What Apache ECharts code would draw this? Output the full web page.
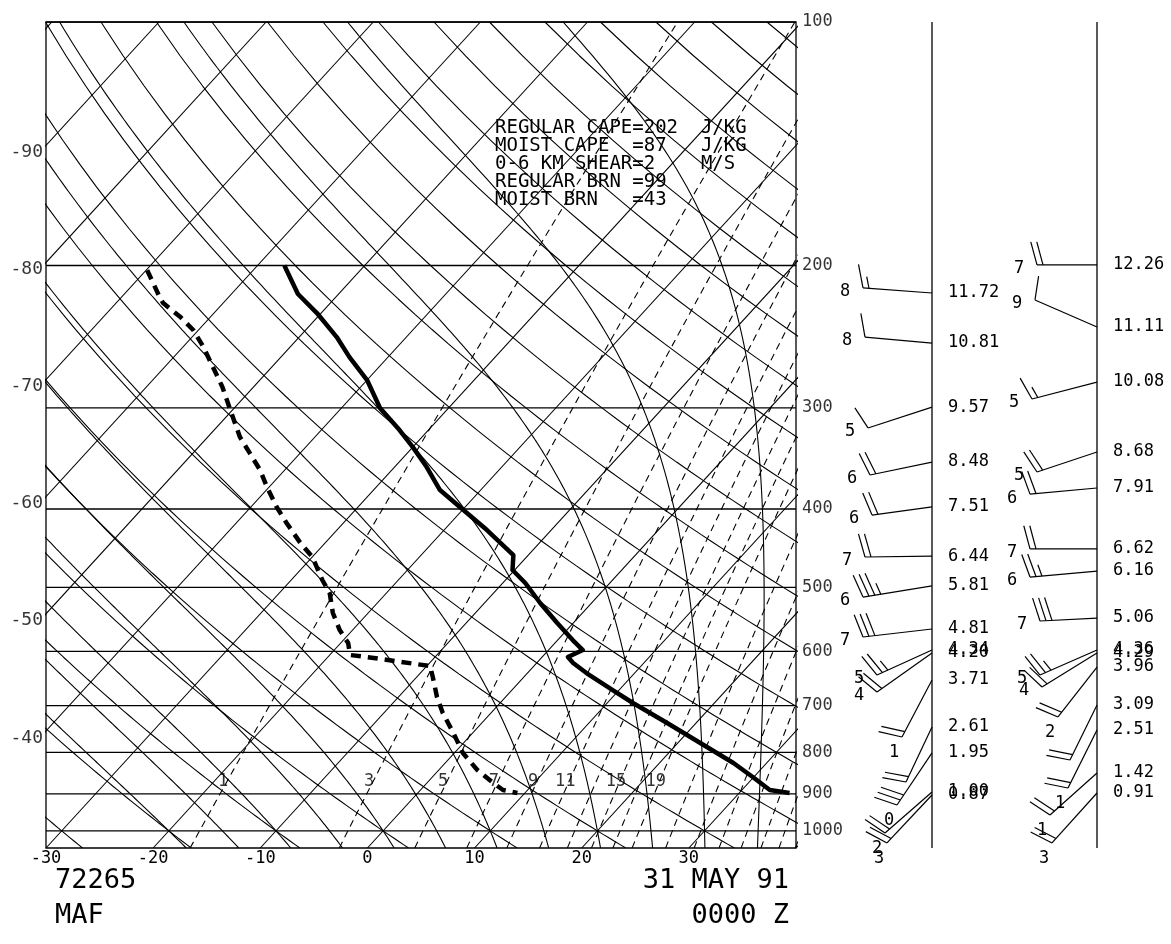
<!DOCTYPE html>
<html><head><meta charset="utf-8">
<script src="https://cdn.jsdelivr.net/npm/echarts@6/dist/echarts.min.js"></script>
<style>html,body{margin:0;padding:0;background:#fff}#c{width:1171px;height:944px}</style>
</head><body><div id="c"></div>
<script>
// ---------------- data ----------------
const tempP = [200,216.9,229,245.2,259.6,277.1,300.1,319.5,335.4,355,379,397.7,424.7,456,475.9,493.8,522.8,553.4,580.9,597.7,609.6,620.1,638.1,669.7,694.9,735.6,778.7,824.3,857.9,890.2,897.8];
const tempT = [-57.5,-53.8,-50.4,-46.5,-43.6,-40.0,-36.4,-32.7,-30.0,-27.0,-23.8,-20.5,-16.0,-11.4,-10.2,-7.9,-4.8,-1.5,1.4,3.2,2.4,3.4,5.5,9.4,12.4,17.3,22.1,26.9,29.9,32.6,34.7];
const dewP = [202.7,219.5,222.6,231.6,240.3,252.2,267.0,282.7,301.8,325.9,341.2,358,375.8,397.7,416.3,440.7,458.5,489.6,508.1,537.8,564.6,585.9,606.2,609.6,625.5,645.4,683.2,714.9,756.8,801.3,841,872.7,890.2,897.8];
const dewT = [-69.9,-66.3,-65.6,-62.8,-60.5,-58.1,-55.5,-52.9,-50.2,-47.0,-44.7,-42.3,-40.2,-37.6,-35.3,-32.3,-30.0,-27.1,-25.3,-23.3,-21.2,-19.3,-18.1,-16.4,-9.7,-8.5,-6.4,-4.5,-1.8,0.8,3.6,6.2,7.7,9.3];

const isobars = [100,200,300,400,500,600,700,800,900,1000];
const pressureLabels = ['100','200','300','400','500','600','700','800','900','1000'];
const isotherms = [-100,-90,-80,-70,-60,-50,-40,-30,-20,-10,0,10,20,30,40];
const leftIsothermLabels = [-90,-80,-70,-60,-50,-40];
const xTickLabels = [-30,-20,-10,0,10,20,30];
const dryAdiabatsC = [-30,-20,-10,0,10,20,30,40,50,60,70,80,90,100,110,120,130,140,150,160,170,180,190];
const moistAdiabatsC = [-20,-15,-10,-5,0,5,10,15,20,25,30,35];
const mixingRatios = [1,3,5,7,9,11,13,15,17,19,23,27,31,35,39,43,47];
const mixingLabelValues = [1,3,5,7,9,11,15,19];
const mixingLabels = ['1','3','5','7','9','11','15','19'];
const mixingLabelP = 868;

const indexLines = [
  'REGULAR CAPE=202  J/KG',
  'MOIST CAPE  =87   J/KG',
  '0-6 KM SHEAR=2    M/S',
  'REGULAR BRN =99',
  'MOIST BRN   =43'
];
const station = ['72265','MAF'];
const dateLines = ['31 MAY 91','0000 Z'];

const windColX = [132, 297];
const col1Height = ['11.72','10.81','9.57','8.48','7.51','6.44','5.81','4.81','4.34','4.20','3.71','2.61','1.95','1.00','0.87'];
const col1AxisP  = [216.3,249.4,299.3,350,397.7,457.4,498,562.9,597.7,602.7,650.9,744,801,895.3,902.9];
const col1VertX  = [63,65,68,70,72,65,63,63,77,77,102,106,97,85,87];
const col1VertP  = [213.2,245.2,317.6,363.1,407,458.6,514,575.9,641.7,673.5,765.5,870.1,929,1006,1035];
const col1Full   = [1,1,1,2,2,2,3,3,2,2,2,2,3,2,2];
const col1Half   = [1,0,0,0,0,0,1,0,1,0,0,0,0,0,0];
const col1Speed  = ['8','8','5','6','6','7','6','7','5','4','1','','0','2','3'];

const col2Height = ['12.26','11.11','10.08','8.68','7.91','6.62','6.16','5.06','4.36','4.29','3.96','3.09','2.51','1.42','0.91'];
const col2AxisP  = [199.7,238.3,278.7,340.1,376.8,448.2,477.3,545.6,597.7,602.7,627.3,698.9,750.4,848.2,897.8];
const col2VertX  = [237,235,232,237,230,230,230,240,240,242,258,270,268,250,252];
const col2VertP  = [199.7,220.6,292.5,360,383.4,448.2,485.5,550.2,641.7,664,723.1,817.3,885.2,955.9,1035];
const col2Full   = [2,1,1,2,2,2,2,3,2,2,2,2,2,2,2];
const col2Half   = [0,0,1,0,0,0,1,0,1,0,0,0,0,0,0];
const col2Speed  = ['7','9','5','5','6','7','6','7','5','4','2','','1','1','3'];

// ---------------- thermodynamics / projection ----------------
const SKEW = 30, P_BOT = 1050, P_TOP = 100;
const skewX = (T, p) => T + SKEW * Math.log(P_BOT / p);
const K = 273.15, Rd = 287.04, Cp = 1005.7, Lv = 2.501e6, EPS = 0.622;
const es = Tc => 6.112 * Math.exp(17.67 * Tc / (Tc + 243.5));
function moistLapse(TK, p) {
  const e = es(TK - K), rs = EPS * e / (p - e);
  return (Rd * TK + Lv * rs) / (Cp + Lv * Lv * rs * EPS / (Rd * TK * TK)) / p;
}
function pressures(step) { const a = []; for (let p = P_BOT; p >= P_TOP - 1e-9; p -= step) a.push(p); if (a[a.length-1] > P_TOP) a.push(P_TOP); return a; }
function dryLine(thC) { return pressures(10).map(p => [skewX((thC + K) * Math.pow(p / 1000, 0.2857) - K, p), p]); }
function moistLine(twC) {
  const pts = [];
  let T = twC + K, p = 1000;
  const down = []; let Td = T, pd = 1000;
  while (pd < P_BOT) { const dp = Math.min(2, P_BOT - pd); const k1 = moistLapse(Td, pd); const k2 = moistLapse(Td + k1 * dp, pd + dp); Td += 0.5 * (k1 + k2) * dp; pd += dp; down.push([pd, Td]); }
  down.reverse().forEach(d => pts.push([skewX(d[1] - K, d[0]), d[0]]));
  pts.push([skewX(T - K, p), p]);
  while (p > P_TOP) { const dp = -2; const k1 = moistLapse(T, p); const k2 = moistLapse(T + k1 * dp, p + dp); T += 0.5 * (k1 + k2) * dp; p += dp; pts.push([skewX(T - K, p), p]); }
  return pts;
}
function mixTemp(w, p) { const e = (w / 1000) * p / (EPS + w / 1000); const l = Math.log(e / 6.112); return 243.5 * l / (17.67 - l); }
function mixLine(w) { return pressures(10).map(p => [skewX(mixTemp(w, p), p), p]); }

// ---------------- series ----------------
const FONT = "'DejaVu Sans Mono', monospace";
const LINE = { color: '#000', width: 1.1 };
const series = [];
const thin = (data, extra) => Object.assign({ type: 'line', data, showSymbol: false, symbol: 'none', silent: true, clip: true, animation: false,
  lineStyle: LINE, xAxisIndex: 0, yAxisIndex: 0, z: 2 }, extra || {});

isobars.forEach(p => series.push(thin([[-30, p], [40, p]], { lineStyle: { color: '#000', width: 1.3 } })));
isotherms.forEach(t => series.push(thin([[skewX(t, P_BOT), P_BOT], [skewX(t, P_TOP), P_TOP]])));
dryAdiabatsC.forEach(th => series.push(thin(dryLine(th))));
moistAdiabatsC.forEach(tw => series.push(thin(moistLine(tw))));
mixingRatios.forEach(w => series.push(thin(mixLine(w), { lineStyle: { color: '#000', width: 1.1, type: [7, 5] } })));

series.push({ type: 'scatter', silent: true, animation: false, symbolSize: 0, z: 5,
  data: mixingLabelValues.map((w, i) => ({ value: [skewX(mixTemp(w, mixingLabelP), mixingLabelP), mixingLabelP], label: { formatter: mixingLabels[i] } })),
  label: { show: true, position: 'inside', offset: [-4, 0], color: '#000', fontFamily: FONT, fontSize: 17 } });

series.push({ type: 'scatter', silent: true, animation: false, symbolSize: 0, clip: false, z: 5,
  data: leftIsothermLabels.map(t => ({ value: [-30, P_BOT * Math.exp(-(-30 - t) / SKEW)], label: { formatter: String(t) } })),
  label: { show: true, position: 'left', distance: 3, offset: [0, 7], color: '#000', fontFamily: FONT, fontSize: 18 } });

series.push({ type: 'scatter', silent: true, animation: false, symbolSize: 0, clip: false, z: 5,
  data: isobars.map((p, i) => ({ value: [40, p], label: { formatter: pressureLabels[i] } })),
  label: { show: true, position: 'right', distance: 6, color: '#000', fontFamily: FONT, fontSize: 17 } });

series.push(thin(tempP.map((p, i) => [skewX(tempT[i], p), p]), { lineStyle: { color: '#000', width: 4.5, join: 'round' }, z: 8 }));
series.push(thin(dewP.map((p, i) => [skewX(dewT[i], p), p]), { lineStyle: { color: '#000', width: 4.5, type: [10, 7] }, z: 8 }));

windColX.forEach(x => series.push(thin([[x, P_TOP], [x, P_BOT]], { xAxisIndex: 1, yAxisIndex: 1, lineStyle: { color: '#000', width: 1.3 } })));

const barbs = [];
col1Height.forEach((h, i) => barbs.push({ col: 0, h, ap: col1AxisP[i], vx: col1VertX[i], vp: col1VertP[i], full: col1Full[i], half: col1Half[i], spd: col1Speed[i] }));
col2Height.forEach((h, i) => barbs.push({ col: 1, h, ap: col2AxisP[i], vx: col2VertX[i], vp: col2VertP[i], full: col2Full[i], half: col2Half[i], spd: col2Speed[i] }));

series.push({ type: 'custom', xAxisIndex: 1, yAxisIndex: 1, silent: true, animation: false, clip: false, z: 6,
  data: barbs.map((b, i) => [b.vx, b.vp, i]),
  renderItem: (params, api) => {
    const b = barbs[params.dataIndex];
    const a = api.coord([windColX[b.col], b.ap]);
    const v = api.coord([b.vx, b.vp]);
    const dx = v[0] - a[0], dy = v[1] - a[1], L = Math.hypot(dx, dy) || 1;
    const ux = dx / L, uy = dy / L;
    const ang = Math.atan2(uy, ux) + 75 * Math.PI / 180;
    const fx = Math.cos(ang), fy = Math.sin(ang);
    const st = { stroke: '#000', lineWidth: 1.2 };
    const ch = [{ type: 'line', shape: { x1: a[0], y1: a[1], x2: v[0], y2: v[1] }, style: st }];
    for (let k = 0; k < b.full + b.half; k++) {
      const sx = v[0] - ux * 6 * k, sy = v[1] - uy * 6 * k;
      const len = k < b.full ? 24 : 12;
      ch.push({ type: 'line', shape: { x1: sx, y1: sy, x2: sx + fx * len, y2: sy + fy * len }, style: st });
    }
    ch.push({ type: 'text', style: { text: b.h, x: a[0] + 16, y: a[1], verticalAlign: 'middle', textVerticalAlign: 'middle', fill: '#000', font: "17px 'DejaVu Sans Mono', monospace" } });
    if (b.spd) {
      const steep = Math.abs(uy) > 0.6;
      ch.push({ type: 'text', style: { text: b.spd, x: steep ? v[0] - 8 : v[0] - 18, y: steep ? v[1] + 16 : v[1] + 4, align: 'center', verticalAlign: 'middle', textAlign: 'center', textVerticalAlign: 'middle', fill: '#000', font: "17px 'DejaVu Sans Mono', monospace" } });
    }
    return { type: 'group', children: ch };
  } });

const chart = echarts.init(document.getElementById('c'), null, { renderer: 'canvas' });
chart.setOption({
  animation: false,
  backgroundColor: '#fff',
  grid: [
    { left: 46, right: 375, top: 22, bottom: 96, show: true, borderColor: '#000', borderWidth: 1.3, backgroundColor: 'transparent' },
    { left: 800, right: 0, top: 22, bottom: 96, show: false }
  ],
  xAxis: [
    { type: 'value', min: -30, max: 40, interval: 10, gridIndex: 0, axisLine: { show: false }, axisTick: { show: false }, splitLine: { show: false },
      axisLabel: { show: true, margin: 2, color: '#000', fontFamily: FONT, fontSize: 17, formatter: v => (xTickLabels.indexOf(v) >= 0 ? String(v) : '') } },
    { type: 'value', min: 0, max: 371, gridIndex: 1, show: false }
  ],
  yAxis: [
    { type: 'log', logBase: 10, min: P_TOP, max: P_BOT, inverse: true, gridIndex: 0, show: false },
    { type: 'log', logBase: 10, min: P_TOP, max: P_BOT, inverse: true, gridIndex: 1, show: false }
  ],
  graphic: [
    { type: 'group', left: 495, top: 119, children: indexLines.map((t, i) => ({ type: 'text', x: 0, y: i * 18, style: { text: t, fill: '#000', font: "19px 'DejaVu Sans Mono', monospace" } })) },
    { type: 'text', left: 55, top: 867, style: { text: station[0], fill: '#000', font: "27px 'DejaVu Sans Mono', monospace" } },
    { type: 'text', left: 55, top: 902, style: { text: station[1], fill: '#000', font: "27px 'DejaVu Sans Mono', monospace" } },
    { type: 'text', right: 382, top: 867, style: { text: dateLines[0], fill: '#000', font: "27px 'DejaVu Sans Mono', monospace" } },
    { type: 'text', right: 382, top: 902, style: { text: dateLines[1], fill: '#000', font: "27px 'DejaVu Sans Mono', monospace" } }
  ],
  series
});
</script></body></html>
